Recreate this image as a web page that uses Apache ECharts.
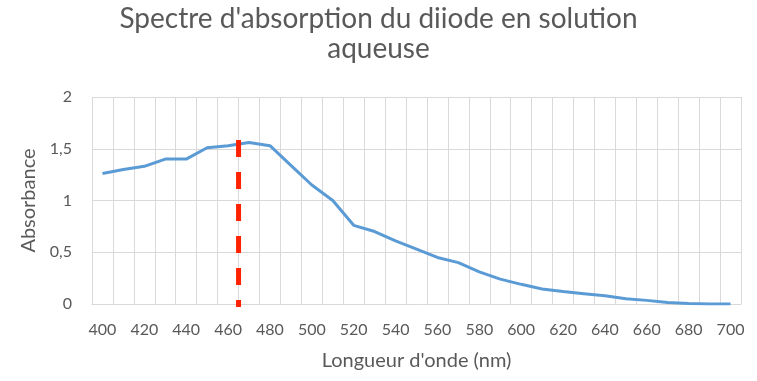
<!DOCTYPE html>
<html><head><meta charset="utf-8">
<script src="https://cdn.jsdelivr.net/npm/echarts@6/dist/echarts.min.js"></script>
<style>html,body{margin:0;padding:0;background:#fff}#c{width:757px;height:381px}</style>
</head><body><div id="c"></div>
<script>
const wavelengths = [400,410,420,430,440,450,460,470,480,490,500,510,520,530,540,550,560,570,580,590,600,610,620,630,640,650,660,670,680,690,700];
const absorbance = [1.26,1.30,1.33,1.40,1.40,1.51,1.53,1.56,1.53,1.34,1.15,1.00,0.76,0.70,0.61,0.53,0.45,0.40,0.31,0.24,0.19,0.145,0.12,0.10,0.08,0.05,0.035,0.015,0.005,0,0];
const yTicks = [0,0.5,1,1.5,2];
const lambdaMax = 465;
const markerSpan = [1.585,-0.03];
const titleText = "Spectre d'absorption du diiode en solution\naqueuse";
const xTitle = "Longueur d'onde (nm)";
const yTitle = "Absorbance";

const font = 'Lato';
const chart = echarts.init(document.getElementById('c'));
chart.setOption({
  animation:false,
  title:{text:titleText,left:'center',top:-1,textStyle:{fontFamily:font,fontWeight:400,fontSize:28,color:'#595959',lineHeight:30}},
  grid:{left:92,right:16,top:97,bottom:77},
  xAxis:[{
    type:'category',data:wavelengths.map(String),boundaryGap:true,
    name:xTitle,nameLocation:'middle',nameGap:47,
    nameTextStyle:{fontFamily:font,fontSize:20,color:'#595959'},
    axisLine:{lineStyle:{color:'#d9d9d9',width:1}},
    axisTick:{show:false},
    axisLabel:{interval:1,fontFamily:font,fontSize:16,color:'#595959',margin:18},
    splitLine:{show:true,interval:0,lineStyle:{color:'#d9d9d9',width:1}}
  },{
    type:'value',min:395,max:705,show:false
  }],
  yAxis:{
    type:'value',min:0,max:2,interval:0.5,
    name:yTitle,nameLocation:'middle',nameGap:52,
    nameTextStyle:{fontFamily:font,fontSize:20,color:'#595959'},
    axisLine:{show:false},axisTick:{show:false},
    axisLabel:{fontFamily:font,fontSize:16,color:'#595959',margin:20,
      formatter:v=>String(v).replace('.',',')},
    splitLine:{lineStyle:{color:'#d9d9d9',width:1}}
  },
  series:[{
    type:'line',data:absorbance,symbol:'none',smooth:false,
    lineStyle:{color:'#5b9bd5',width:3}
  },{
    type:'line',xAxisIndex:1,data:markerSpan.map(v=>[lambdaMax,v]),symbol:'none',clip:false,
    lineStyle:{color:'#ff2200',width:5,type:[17,15]}
  }]
});
</script></body></html>
